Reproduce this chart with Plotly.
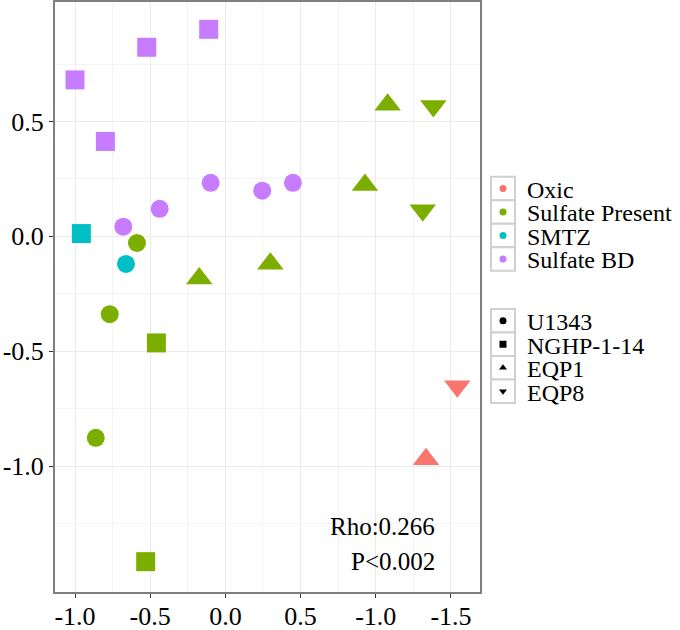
import plotly.graph_objects as go

# ---- data ----
groups = ["Oxic", "Sulfate Present", "SMTZ", "Sulfate BD"]
group_colors = ["#F8766D", "#7CAE00", "#00BFC4", "#C77CFF"]
sites = ["U1343", "NGHP-1-14", "EQP1", "EQP8"]
site_symbols = ["circle", "square", "triangle-up", "triangle-down"]

point_group = ["Sulfate BD"] * 9 + ["SMTZ"] * 2 + ["Sulfate Present"] * 11 + ["Oxic"] * 2
point_site = (["NGHP-1-14"] * 4 + ["U1343"] * 5 +
              ["NGHP-1-14", "U1343"] +
              ["U1343"] * 3 + ["NGHP-1-14"] * 2 + ["EQP1"] * 4 + ["EQP8"] * 2 +
              ["EQP8", "EQP1"])
point_x = [-1.00, -0.523, -0.111, -0.798,
           -0.679, -0.437, -0.098, 0.245, 0.449,
           -0.958, -0.661,
           -0.588, -0.769, -0.862,
           -0.459, -0.530,
           1.079, 0.928, -0.174, 0.299,
           1.383, 1.312,
           1.542, 1.334]
point_y = [0.681, 0.823, 0.901, 0.413,
           0.042, 0.120, 0.233, 0.199, 0.233,
           0.012, -0.120,
           -0.029, -0.339, -0.877,
           -0.464, -1.416,
           0.573, 0.223, -0.183, -0.119,
           0.567, 0.114,
           -0.653, -0.970]

x_tickvals = [-1.0, -0.5, 0.0, 0.5, 1.0, 1.5]
x_ticktext = ["-1.0", "-0.5", "0.0", "0.5", "-1.0", "-1.5"]
y_tickvals = [-1.0, -0.5, 0.0, 0.5]
y_ticktext = ["-1.0", "-0.5", "0.0", "0.5"]

stat_lines = ["Rho:0.266", "P<0.002"]

FONT = "Liberation Serif, Times New Roman, serif"

fig = go.Figure()

sizes = {"circle": 18, "square": 19, "triangle-up": 23, "triangle-down": 23}

for g, col in zip(groups, group_colors):
    for s, sym in zip(sites, site_symbols):
        xs = [x for x, gg, ss in zip(point_x, point_group, point_site) if gg == g and ss == s]
        ys = [y for y, gg, ss in zip(point_y, point_group, point_site) if gg == g and ss == s]
        if not xs:
            continue
        fig.add_trace(go.Scatter(
            x=xs, y=ys, mode="markers", showlegend=False,
            marker=dict(color=col, symbol=sym, size=sizes[sym], line=dict(width=0)),
            hoverinfo="skip"))

fig.add_annotation(x=1.407, y=-1.264, text=stat_lines[0], showarrow=False,
                   xanchor="right", yanchor="middle",
                   font=dict(family=FONT, size=25, color="black"))
fig.add_annotation(x=1.407, y=-1.417, text=stat_lines[1], showarrow=False,
                   xanchor="right", yanchor="middle",
                   font=dict(family=FONT, size=25, color="black"))

# ---- ggplot-style legends drawn on a pixel-unit helper axis (x2/y2) ----
KEY_H = 23.5
KEY_X0, KEY_X1 = 491, 515
TEXT_X = 525


def draw_legend(labels, colors, symbols, top):
    centers = [top + (i + 0.5) * KEY_H for i in range(len(labels))]
    for i, c in enumerate(centers):
        fig.add_shape(type="rect", xref="x2", yref="y2",
                      x0=KEY_X0, x1=KEY_X1, y0=top + i * KEY_H, y1=top + (i + 1) * KEY_H,
                      line=dict(color="#D0D0D0", width=2), fillcolor="white", layer="below")
    fig.add_trace(go.Scatter(
        x=[(KEY_X0 + KEY_X1) / 2] * len(labels), y=centers, mode="markers",
        xaxis="x2", yaxis="y2", showlegend=False, hoverinfo="skip",
        marker=dict(color=colors, symbol=symbols, size=7, line=dict(width=0))))
    for lab, c in zip(labels, centers):
        fig.add_annotation(x=TEXT_X, y=c + 1.5, xref="x2", yref="y2", text=lab, showarrow=False,
                           xanchor="left", yanchor="middle",
                           font=dict(family=FONT, size=24, color="black"))


draw_legend(groups, group_colors, ["circle"] * 4, 176.7)
draw_legend(sites, ["black"] * 4, site_symbols, 309.0)

axis_common = dict(
    showgrid=True, gridcolor="#EBEBEB", gridwidth=1, automargin=False,
    zeroline=False, showline=True, linecolor="#7F7F7F", linewidth=2, mirror=True,
    ticks="outside", ticklen=4, tickcolor="#333333", tickwidth=1,
    tickfont=dict(family=FONT, size=26, color="black"),
    minor=dict(showgrid=True, gridcolor="#F4F4F4", gridwidth=1, dtick=0.5, tick0=0.25),
)

fig.update_layout(
    width=680, height=630, autosize=False,
    margin=dict(l=55, r=0, t=2, b=38),
    plot_bgcolor="rgba(0,0,0,0)", paper_bgcolor="white",
    showlegend=False,
    xaxis=dict(domain=[0, 425 / 625], range=[-1.133, 1.693], ticklabelstandoff=-4,
               tickvals=x_tickvals, ticktext=x_ticktext, **axis_common),
    yaxis=dict(range=[-1.548, 1.02], tickvals=y_tickvals, ticktext=y_ticktext, **axis_common),
    xaxis2=dict(domain=[425 / 625, 1], range=[480, 680], visible=False, showgrid=False,
                zeroline=False, fixedrange=True, anchor="y2"),
    yaxis2=dict(domain=[0, 1], range=[592, 2], visible=False, showgrid=False,
                zeroline=False, fixedrange=True, anchor="x2"),
)

fig.write_html("out.html", config={"displayModeBar": False},
               post_script="document.body.style.margin='0';")
